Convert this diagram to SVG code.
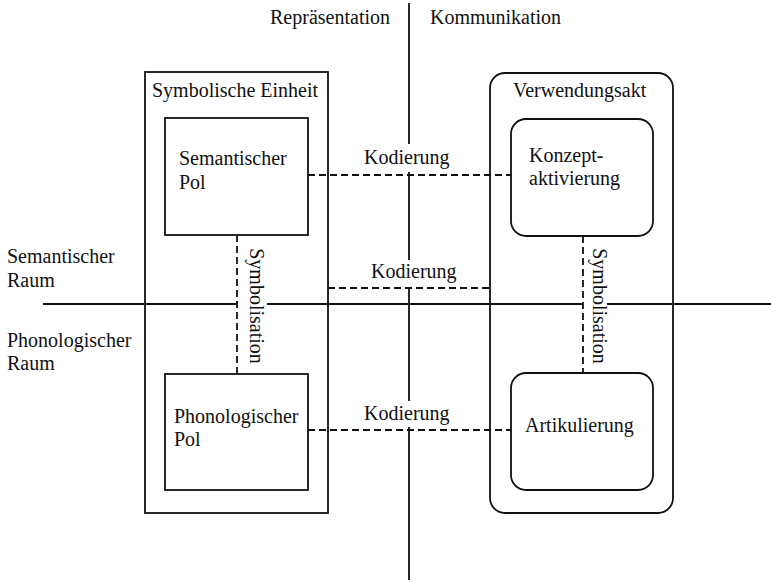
<svg xmlns="http://www.w3.org/2000/svg" width="771" height="583" viewBox="0 0 771 583" font-family="Liberation Serif, Times New Roman, serif" font-size="20">
<style>
text { fill: #111; }
.box { fill: #fff; stroke: #111; stroke-width: 1.8; }
.outer { fill: none; stroke: #111; stroke-width: 1.8; }
.axis { stroke: #111; stroke-width: 1.8; fill: none; }
.dash { stroke: #111; stroke-width: 1.8; stroke-dasharray: 7 4; fill: none; }
</style>
<rect width="771" height="583" fill="#fff"/>
<g id="axes">
  <path class="axis" d="M409,3 V144 M409,172 V260 M409,287 V401 M409,427 V580"/>
  <path class="axis" d="M43,304 H237 M267,304 H583 M607,304 H771"/>
  <text x="390" y="24" text-anchor="end">Repräsentation</text>
  <text x="430" y="24">Kommunikation</text>
  <text x="7" y="263">Semantischer</text>
  <text x="7" y="287">Raum</text>
  <text x="7" y="347">Phonologischer</text>
  <text x="7" y="370">Raum</text>
</g>
<g id="symbolische-einheit">
  <rect class="outer" x="145" y="72" width="183" height="441"/>
  <text x="152" y="97">Symbolische Einheit</text>
</g>
<g id="verwendungsakt">
  <rect class="outer" x="490" y="73" width="183" height="440" rx="15" ry="15"/>
  <text x="513" y="97">Verwendungsakt</text>
</g>
<g id="connectors">
  <path class="dash" d="M308,175 H511"/>
  <path class="dash" d="M328,288 H490"/>
  <path class="dash" d="M308,430 H511"/>
  <path class="dash" d="M237,235 V374"/>
  <path class="dash" d="M583,236 V373"/>
  <text x="364" y="164">Kodierung</text>
  <text x="371" y="278">Kodierung</text>
  <text x="364" y="420">Kodierung</text>
  <text transform="translate(250,306) rotate(90)" text-anchor="middle">Symbolisation</text>
  <text transform="translate(593,306) rotate(90)" text-anchor="middle">Symbolisation</text>
</g>
<g id="semantischer-pol">
  <rect class="box" x="165" y="118" width="143" height="117"/>
  <text x="179" y="165">Semantischer</text>
  <text x="179" y="189">Pol</text>
</g>
<g id="phonologischer-pol">
  <rect class="box" x="165" y="374" width="143" height="116"/>
  <text x="174" y="423">Phonologischer</text>
  <text x="174" y="446">Pol</text>
</g>
<g id="konzeptaktivierung">
  <rect class="box" x="511" y="119" width="142" height="117" rx="15" ry="15"/>
  <text x="529" y="162">Konzept-</text>
  <text x="529" y="185">aktivierung</text>
</g>
<g id="artikulierung">
  <rect class="box" x="511" y="373" width="142" height="117" rx="15" ry="15"/>
  <text x="525" y="432">Artikulierung</text>
</g>
</svg>
